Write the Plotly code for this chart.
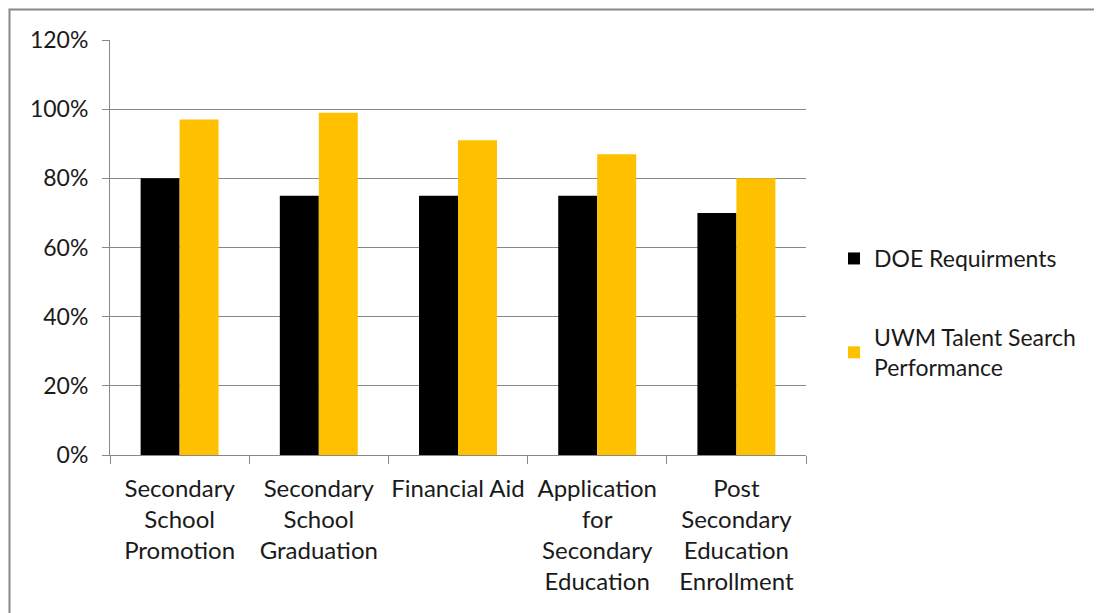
import plotly.graph_objects as go

categories = [
    "Secondary<br>School<br>Promotion",
    "Secondary<br>School<br>Graduation",
    "Financial Aid",
    "Application<br>for<br>Secondary<br>Education",
    "Post<br>Secondary<br>Education<br>Enrollment",
]
doe_values = [80, 75, 75, 75, 70]
uwm_values = [97, 99, 91, 87, 80]
y_ticks = [0, 20, 40, 60, 80, 100, 120]
y_tick_labels = ["0%", "20%", "40%", "60%", "80%", "100%", "120%"]
series_names = ["DOE Requirments", "UWM Talent Search<br>Performance"]

OFF = 8  # page body margin
W, H = 1102, 613
L, R, T, B = 110 - OFF, 296 + OFF, 40 - OFF, 158 + OFF
pw, ph = W - L - R, H - T - B

def px_x(x):
    return (x - OFF - L) / pw

def px_y(y):
    return (H - B - (y - OFF)) / ph

font_family = "Lato, 'Open Sans', sans-serif"
FS = 23

fig = go.Figure()
fig.add_trace(go.Bar(x=categories, y=doe_values, name=series_names[0],
                     marker=dict(color="#000000", line=dict(width=0)),
                     legendgroup="a"))
fig.add_trace(go.Bar(x=categories, y=uwm_values, name=series_names[1],
                     marker=dict(color="#FFC000", line=dict(width=0)),
                     legendgroup="b"))

fig.update_layout(
    width=W, height=H,
    margin=dict(l=L, r=R, t=T, b=B, pad=0, autoexpand=False),
    paper_bgcolor="#ffffff",
    plot_bgcolor="rgba(0,0,0,0)",
    barmode="group",
    bargap=0.44,
    bargroupgap=0,
    font=dict(family=font_family, size=FS, color="#1a1a1a"),
    showlegend=True,
    legend=dict(
        x=px_x(834), y=px_y(237), xanchor="left", yanchor="top",
        font=dict(size=FS, color="#1a1a1a"),
        tracegroupgap=46,
        itemwidth=30,
        bgcolor="rgba(0,0,0,0)",
    ),
    xaxis=dict(
        showline=True, linecolor="#888888", linewidth=1,
        ticks="outside", ticklen=8, tickcolor="#888888",
        tickson="boundaries",
        showgrid=False,
        tickfont=dict(size=24),
        tickangle=0,
        automargin=False,
        ticklabelstandoff=12,
    ),
    yaxis=dict(
        range=[0, 120],
        tickvals=y_ticks,
        ticktext=y_tick_labels,
        showline=True, linecolor="#888888", linewidth=1,
        ticks="outside", ticklen=7, tickcolor="#888888",
        showgrid=True, gridcolor="#888888", gridwidth=1,
        zeroline=False,
        automargin=False,
        tickfont=dict(size=FS),
        ticklabelstandoff=9,
    ),
    shapes=[
        dict(type="rect", xref="paper", yref="paper",
             x0=px_x(9.5), x1=px_x(1130), y0=px_y(9.5), y1=px_y(650),
             line=dict(color="#888888", width=2), fillcolor="rgba(0,0,0,0)",
             layer="below"),
    ],
)

fig.write_html("out.html")
